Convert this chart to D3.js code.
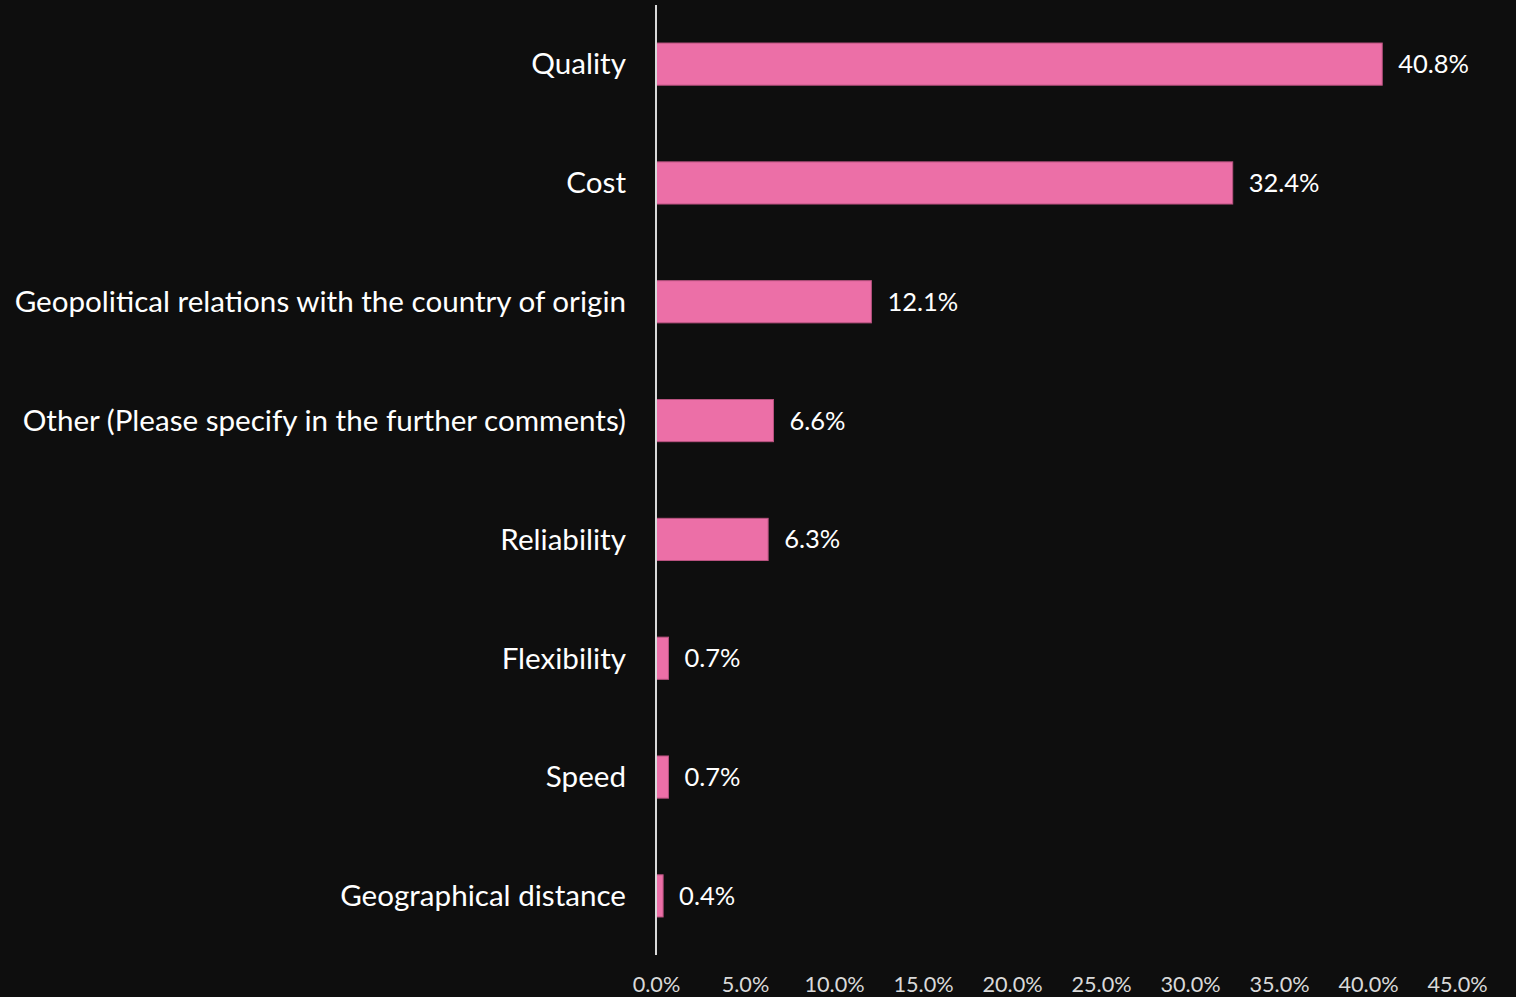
<!DOCTYPE html>
<html>
<head>
<meta charset="utf-8">
<script src="https://cdn.jsdelivr.net/npm/d3@7"></script>
<style>
  html, body { margin: 0; padding: 0; background: #0e0e0e; }
  svg { display: block; }
</style>
</head>
<body>
<svg id="chart" width="1516" height="997"></svg>
<script>
// Survey factors, ordered top to bottom, with share of respondents (%)
const categories = [
  "Quality",
  "Cost",
  "Geopolitical relations with the country of origin",
  "Other (Please specify in the further comments)",
  "Reliability",
  "Flexibility",
  "Speed",
  "Geographical distance"
];
const values = [40.8, 32.4, 12.1, 6.6, 6.3, 0.7, 0.7, 0.4];
const tickValues = [0, 5, 10, 15, 20, 25, 30, 35, 40, 45];

const FONT = "Lato, 'Open Sans', sans-serif";
const svg = d3.select("#chart");

const plotLeft = 656, plotRight = 1457, plotTop = 5, plotBottom = 955;

const x = d3.scaleLinear().domain([0, 45]).range([plotLeft, plotRight]);
const y = d3.scaleBand().domain(categories).range([plotTop, plotBottom])
  .paddingInner(0.645).paddingOuter(0.32);

// Bars
svg.append("g").selectAll("rect")
  .data(values)
  .join("rect")
  .attr("x", x(0))
  .attr("y", (d, i) => y(categories[i]))
  .attr("width", d => x(d) - x(0))
  .attr("height", y.bandwidth())
  .attr("fill", "#ec6fa7")
  .attr("stroke", "#b8527f")
  .attr("stroke-width", 1);

// Value labels
svg.append("g").selectAll("text")
  .data(values)
  .join("text")
  .attr("x", d => x(d) + 16)
  .attr("y", (d, i) => y(categories[i]) + y.bandwidth() / 2)
  .attr("dy", "0.35em")
  .attr("fill", "#ffffff")
  .attr("font-family", FONT)
  .attr("font-size", 25.5)
  .text(d => d.toFixed(1) + "%");

// Category labels
svg.append("g").selectAll("text")
  .data(categories)
  .join("text")
  .attr("x", plotLeft - 30)
  .attr("y", d => y(d) + y.bandwidth() / 2)
  .attr("dy", "0.35em")
  .attr("text-anchor", "end")
  .attr("fill", "#ffffff")
  .attr("font-family", FONT)
  .attr("font-size", 29.6)
  .text(d => d);

// Vertical baseline
svg.append("line")
  .attr("x1", x(0)).attr("x2", x(0))
  .attr("y1", plotTop).attr("y2", plotBottom)
  .attr("stroke", "#d9d9d9")
  .attr("stroke-width", 2);

// Bottom percentage axis (labels only)
const xAxis = d3.axisBottom(x)
  .tickValues(tickValues)
  .tickSize(0)
  .tickPadding(0)
  .tickFormat(d => d.toFixed(1) + "%");

const gx = svg.append("g")
  .attr("transform", "translate(0, 977)")
  .call(xAxis);
gx.select(".domain").remove();
gx.selectAll("text")
  .attr("fill", "#d9d9d9")
  .attr("font-family", FONT)
  .attr("font-size", 21.7);
</script>
</body>
</html>
